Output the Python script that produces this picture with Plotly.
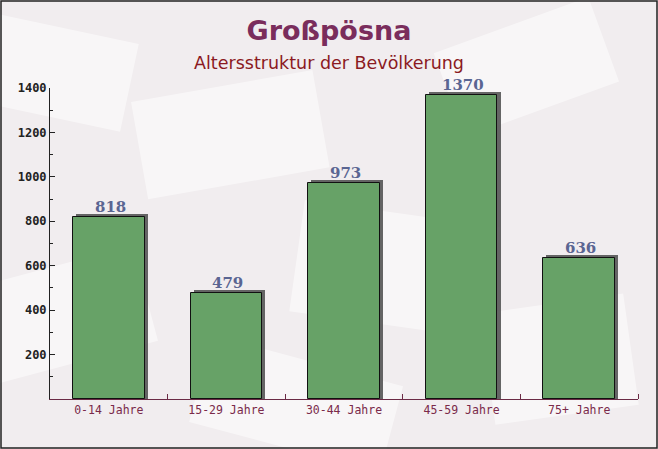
import math
import plotly.graph_objects as go

categories = ['0-14 Jahre', '15-29 Jahre', '30-44 Jahre', '45-59 Jahre', '75+ Jahre']
values = [818, 479, 973, 1370, 636]
y_ticks = [200, 400, 600, 800, 1000, 1200, 1400]

W, H = 658, 449
ML, MR, MT, MB = 50, 20, 88, 50
pw = W - ML - MR
ph = H - MT - MB

bar_w = 0.61
shadow_dx = 0.026   # in category units
shadow_dy = 13      # in value units

fig = go.Figure()

# 3d-ish shadow behind each bar
fig.add_trace(go.Bar(
    x=list(range(len(categories))), y=[v + shadow_dy for v in values],
    width=bar_w, offset=-bar_w / 2 + shadow_dx,
    marker=dict(color='rgba(75,75,75,0.85)', line=dict(width=0)),
    hoverinfo='skip', showlegend=False,
))
fig.add_trace(go.Bar(
    x=list(range(len(categories))), y=values,
    width=bar_w, offset=-bar_w / 2,
    marker=dict(color='#67a267', line=dict(color='#111111', width=1)),
    showlegend=False,
))

annotations = []
# value labels above the bars
for i, v in enumerate(values):
    annotations.append(dict(
        x=i + shadow_dx / 2, y=v + shadow_dy, xref='x', yref='y',
        text=str(v), showarrow=False, yanchor='bottom', yshift=-3, borderpad=0,
        font=dict(family='DejaVu Serif', size=15, color='#5a6592', weight='bold'),
    ))
annotations.append(dict(
    text='Altersstruktur der Bevölkerung', xref='paper', yref='paper',
    x=0.5 - (ML - MR) / 2 / pw, y=1 + (MT - 63) / ph, xanchor='center', yanchor='middle',
    showarrow=False, borderpad=0, font=dict(family='DejaVu Sans', size=17.5, color='#8b1a22'),
))

# soft background "envelopes"
shapes = []
env = [
    (0.05, 0.85, 0.30, 0.20, -12), (0.35, 0.70, 0.28, 0.22, 10),
    (0.60, 0.40, 0.30, 0.25, -8), (0.10, 0.30, 0.25, 0.22, 15),
    (0.80, 0.85, 0.25, 0.20, 20), (0.45, 0.10, 0.30, 0.20, -15),
    (0.85, 0.20, 0.22, 0.25, 8),
]
for cx, cy, w, h, ang in env:
    a = math.radians(ang)
    pts = []
    for dx, dy in [(-w / 2, -h / 2), (w / 2, -h / 2), (w / 2, h / 2), (-w / 2, h / 2)]:
        px = dx * W * math.cos(a) - dy * H * math.sin(a)
        py = dx * W * math.sin(a) + dy * H * math.cos(a)
        pts.append((cx * W + px, cy * H + py))
    path = 'M ' + ' L '.join(f'{(x - ML) / pw:.4f},{(y - MB) / ph:.4f}' for x, y in pts) + ' Z'
    shapes.append(dict(type='path', xref='paper', yref='paper', path=path,
                       fillcolor='rgba(255,255,255,0.5)', line=dict(width=0), layer='below'))

# outer frame
shapes.append(dict(type='rect', xref='paper', yref='paper',
                   x0=-(ML - 1) / pw, x1=1 + (MR - 1) / pw,
                   y0=-(MB - 1) / ph, y1=1 + (MT - 1) / ph,
                   line=dict(color='#222222', width=1.5), fillcolor='rgba(0,0,0,0)'))

fig.update_layout(
    width=W, height=H,
    margin=dict(l=ML, r=MR, t=MT, b=MB),
    paper_bgcolor='#f1edef', plot_bgcolor='rgba(0,0,0,0)',
    barmode='overlay', bargap=0,
    shapes=shapes,
    annotations=annotations,
    title=dict(
        text='<b>Großpösna</b>',
        font=dict(family='DejaVu Sans', size=27, color='#7a2d5c'),
        x=0.5, xanchor='center', y=1 - 31 / H, yanchor='middle',
    ),
    xaxis=dict(
        tickmode='array', tickvals=list(range(len(categories))), ticktext=categories,
        range=[-0.5, len(categories) - 0.5],
        showgrid=False, zeroline=False, showline=True, linecolor='#6b2a45', linewidth=1,
        ticks='', tickfont=dict(family='DejaVu Sans Mono', size=11.5, color='#7a2a4a'),
        minor=dict(tickvals=[i + 0.5 for i in range(len(categories))], ticks='inside',
                   ticklen=5, tickcolor='#6b2a45'),
    ),
    yaxis=dict(
        range=[0, 1400], tickmode='array', tickvals=y_ticks,
        showgrid=False, zeroline=False, showline=True, linecolor='#222222', linewidth=1,
        ticks='inside', ticklen=5, tickcolor='#222222',
        tickfont=dict(family='DejaVu Sans Mono', size=12, color='#222222', weight='bold'),
        minor=dict(dtick=200, tick0=100, ticks='inside', ticklen=3, tickcolor='#222222'),
    ),
)

fig.write_html('out.html', config={'displayModeBar': False},
               post_script="document.body.style.margin='0';")
